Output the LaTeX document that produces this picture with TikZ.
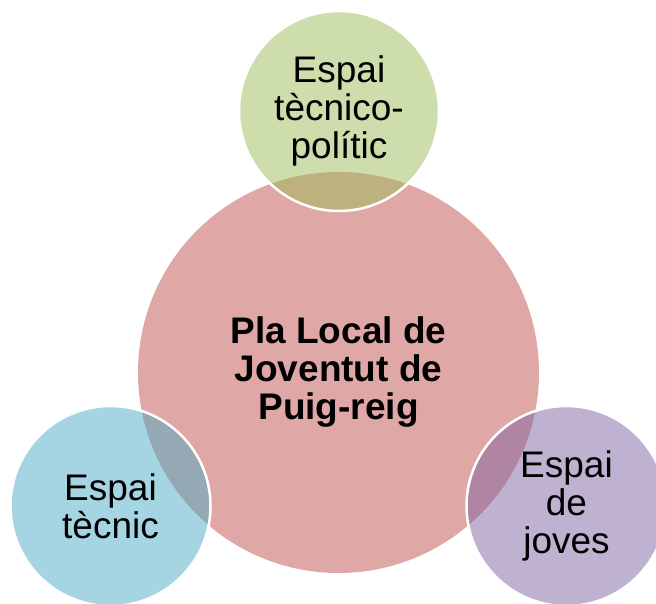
\documentclass[tikz,border=0pt]{standalone}
\usepackage{fontspec}
\setmainfont{Liberation Sans}
\definecolor{cpink}{HTML}{C0504D}
\definecolor{cgreen}{HTML}{9BBB59}
\definecolor{cblue}{HTML}{4BACC6}
\definecolor{cpurple}{HTML}{8064A2}
\tikzset{
  bigcirc/.style={circle, minimum size=401pt, inner sep=0pt, fill=cpink, fill opacity=0.5, text opacity=1, draw=none,
    align=center, font=\fontsize{37}{38}\selectfont\bfseries},
  smallcirc/.style={circle, minimum size=200pt, inner sep=0pt, fill=#1, fill opacity=0.5, draw=white, draw opacity=1,
    line width=2.5pt, text opacity=1, align=center, font=\fontsize{37}{38}\selectfont}
}
\begin{document}
\begin{tikzpicture}[x=1pt,y=-1pt]
\useasboundingbox (0,0) rectangle (656,604);
\node[bigcirc] (pla) at (338.5,372.5) {Pla Local de\\Joventut de\\Puig-reig};
\node[smallcirc=cgreen] (tp) at (339,111) {Espai\\tècnico-\\polític};
\node[smallcirc=cblue] (tec) at (110.5,506) {Espai\\tècnic};
\node[smallcirc=cpurple] (jov) at (566.5,506) {Espai\\de\\joves};
\end{tikzpicture}
\end{document}
